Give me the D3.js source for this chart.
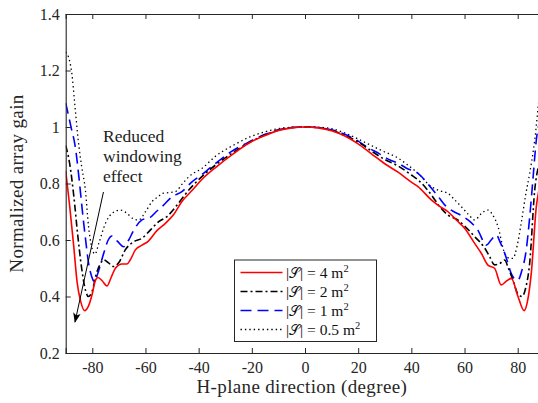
<!DOCTYPE html>
<html><head><meta charset="utf-8">
<script src="https://cdn.jsdelivr.net/npm/d3@7"></script>
<style>
body{margin:0;background:#fff;}
svg{display:block;}
</style></head>
<body>
<svg id="chart" width="538" height="403"></svg>
<script>
// ---------- data ----------
const xTicks = [-80,-60,-40,-20,0,20,40,60,80];
const yTicks = [0.2,0.4,0.6,0.8,1,1.2,1.4];
const yTickLabels = ["0.2","0.4","0.6","0.8","1","1.2","1.4"];
const seriesNames = ["4 m","2 m","1 m","0.5 m"];

const redX = [-90,-88.5,-87,-85.7,-84.3,-82.9,-81.5,-80,-78.9,-77.9,-76.2,-74.5,-72.8,-71.3,-68.8,-67,-65.7,-63.8,-61.3,-59,-55.7,-52.5,-49.4,-46.3,-42.5,-38.7,-33.2,-27,-20.7,-15,-10,-5,0,5,10,15,20,25,30,35,40,42.5,47.5,50.5,53.8,57,60.1,63.8,66.3,68.8,71.3,73.8,75.8,77.6,80.1,82.4,84,85.1,87,88.5,90];
const redY = [0.845,0.72,0.58,0.45,0.38,0.35,0.365,0.41,0.455,0.467,0.455,0.437,0.47,0.5,0.515,0.515,0.53,0.565,0.582,0.595,0.633,0.659,0.69,0.736,0.775,0.815,0.86,0.905,0.945,0.97,0.988,0.997,1.0,0.997,0.987,0.968,0.94,0.905,0.87,0.84,0.805,0.789,0.742,0.72,0.7,0.67,0.641,0.588,0.553,0.511,0.5,0.441,0.455,0.464,0.4,0.35,0.4,0.482,0.718,0.8,0.86];

const blackX = [-90,-88.5,-87,-85.5,-84,-82.5,-81.5,-80,-78.5,-77,-75.7,-74,-72,-70,-67.6,-64.4,-61.3,-58.2,-55,-51.9,-48.1,-43.7,-38.7,-33,-27,-20,-15,-10,-5,0,5,10,15,20,25,30,35,40,42.5,47.5,50.5,53.8,57.6,60.5,63.8,67.6,69.5,71.3,73,75.1,76.5,78.2,80,81.6,83,84.5,86.4,88,90];
const blackY = [0.935,0.87,0.76,0.62,0.5,0.42,0.4,0.42,0.48,0.515,0.53,0.52,0.506,0.52,0.565,0.594,0.606,0.635,0.665,0.683,0.724,0.777,0.825,0.87,0.91,0.95,0.972,0.989,0.998,1.0,0.998,0.988,0.97,0.947,0.915,0.885,0.862,0.83,0.813,0.76,0.72,0.688,0.67,0.645,0.612,0.571,0.54,0.512,0.515,0.529,0.5,0.458,0.41,0.4,0.43,0.518,0.777,0.87,0.935];

const blueX = [-90,-88,-86.4,-85,-83.9,-82.5,-81.4,-80.2,-79.2,-78,-75.7,-74,-72.6,-70.5,-68.2,-66.3,-64.4,-61.3,-58.2,-56,-53.8,-50,-46.3,-42.5,-38.7,-35.7,-28.2,-20,-15,-10,-5,0,5,10,15,20,23.2,28,32,35,38,42.5,47.5,50,53,56,58.5,61.3,65,68.2,70,71.9,73.5,75.1,78.2,80.1,81.5,83.2,84.5,85.7,87,88.5,90];
const blueY = [1.085,1.0,0.93,0.82,0.718,0.6,0.518,0.47,0.452,0.48,0.553,0.6,0.614,0.595,0.576,0.6,0.635,0.671,0.68,0.7,0.718,0.753,0.771,0.806,0.832,0.855,0.91,0.952,0.974,0.99,0.998,1.0,0.998,0.99,0.974,0.95,0.93,0.905,0.883,0.872,0.855,0.836,0.784,0.755,0.72,0.7,0.688,0.671,0.635,0.582,0.6,0.618,0.59,0.553,0.47,0.458,0.49,0.565,0.68,0.812,0.954,1.03,1.085];

const dotX = [-90,-89,-87.7,-86.5,-85.3,-84,-82.6,-81.4,-80.2,-79,-77.5,-75,-72.5,-69.5,-67,-64.5,-62.5,-60,-57.5,-55,-53.8,-51,-48.8,-46,-43.7,-38.7,-33.2,-27,-20.7,-15,-10,-5,0,5,10,16.7,22,29.2,35,38,42.5,47.5,50.5,53.8,56,58.8,61.5,63.8,66.5,68.8,70.5,72.6,75.1,77,78.2,79.8,81.3,83,84.5,86.4,88,90];
const dotY = [1.265,1.249,1.19,1.072,0.954,0.86,0.777,0.647,0.575,0.55,0.59,0.66,0.695,0.706,0.695,0.675,0.671,0.7,0.736,0.755,0.765,0.768,0.771,0.8,0.824,0.854,0.9,0.935,0.965,0.983,0.994,0.999,1.0,0.999,0.994,0.972,0.948,0.915,0.89,0.87,0.836,0.789,0.775,0.765,0.745,0.718,0.69,0.671,0.695,0.706,0.69,0.647,0.553,0.535,0.535,0.58,0.659,0.76,0.836,0.954,1.1,1.265];

// ---------- layout ----------
const FONT = "'Liberation Serif','DejaVu Serif',serif";
const svg = d3.select("#chart");
const xs = d3.scaleLinear().domain([-90,90]).range([65.7,544.3]);
const ys = d3.scaleLinear().domain([0.2,1.4]).range([353,14]);
const axisColor = "#262626";

const defs = svg.append("defs");
defs.append("clipPath").attr("id","plotclip")
  .append("rect").attr("x",xs(-90)).attr("y",ys(1.4)).attr("width",xs(90)-xs(-90)).attr("height",ys(0.2)-ys(1.4));

const series = [
  {name:seriesNames[0], xv:redX, yv:redY, color:"#ff0000", dash:null, w:1.6},
  {name:seriesNames[1], xv:blackX, yv:blackY, color:"#000000", dash:"7,3,2,3", w:1.6},
  {name:seriesNames[2], xv:blueX, yv:blueY, color:"#0000ff", dash:"11,6", w:1.6},
  {name:seriesNames[3], xv:dotX, yv:dotY, color:"#000000", dash:"1.4,3", w:1.3}
];

const lineGen = d3.line().x(d=>xs(d[0])).y(d=>ys(d[1])).curve(d3.curveMonotoneX);
const plotG = svg.append("g").attr("clip-path","url(#plotclip)");
series.slice().reverse().forEach(s=>{
  plotG.append("path").datum(s.xv.map((v,i)=>[v,s.yv[i]]))
    .attr("d",lineGen).attr("fill","none").attr("stroke",s.color)
    .attr("stroke-width",s.w).attr("stroke-dasharray",s.dash);
});

// ---------- axes ----------
const axB = svg.append("g").attr("transform",`translate(0,${ys(0.2)})`)
  .call(d3.axisBottom(xs).tickValues(xTicks).tickSize(-5).tickPadding(9).tickFormat(d=>String(d)));
const axT = svg.append("g").attr("transform",`translate(0,${ys(1.4)})`)
  .call(d3.axisTop(xs).tickValues(xTicks).tickSize(-5).tickFormat(""));
const axL = svg.append("g").attr("transform",`translate(${xs(-90)},0)`)
  .call(d3.axisLeft(ys).tickValues(yTicks).tickSize(-5).tickPadding(6).tickFormat((d,i)=>yTickLabels[i]));
[axB,axT,axL].forEach(a=>{
  a.attr("font-family",null).attr("font-size",null);
  a.select(".domain").attr("stroke",axisColor).attr("stroke-width",1.1);
  a.selectAll(".tick line").attr("stroke",axisColor).attr("stroke-width",1);
  a.selectAll("text").style("font-size","16px").style("fill",axisColor).style("font-family",FONT);
});

svg.append("text").attr("x",(xs(-90)+538)/2).attr("y",393)
  .attr("text-anchor","middle").style("font-family",FONT).style("font-size","19px")
  .style("letter-spacing","0.35px").style("fill",axisColor)
  .text("H-plane direction (degree)");
svg.append("text").attr("transform",`translate(23,${(ys(0.2)+ys(1.4))/2}) rotate(-90)`)
  .attr("text-anchor","middle").style("font-family",FONT).style("font-size","19px")
  .style("letter-spacing","0.35px").style("fill",axisColor)
  .text("Normalized array gain");

// ---------- annotation ----------
const ann = ["Reduced","windowing","effect"];
ann.forEach((t,i)=>{
  svg.append("text").attr("x",103).attr("y",142+i*20)
    .style("font-family",FONT).style("font-size","17.5px").style("fill","#222").text(t);
});
defs.append("marker").attr("id","arrow").attr("viewBox","0 0 10 10")
  .attr("refX",9).attr("refY",5).attr("markerWidth",10).attr("markerHeight",10)
  .attr("orient","auto").attr("markerUnits","userSpaceOnUse")
  .append("path").attr("d","M0,1.2 L10,5 L0,8.8 L2.5,5 Z").attr("fill","#000");
svg.append("line").attr("x1",xs(-75.8)).attr("y1",ys(0.77)).attr("x2",xs(-86.5)).attr("y2",ys(0.31))
  .attr("stroke","#000").attr("stroke-width",1).attr("marker-end","url(#arrow)");

// ---------- legend ----------
const lg = svg.append("g");
lg.append("rect").attr("x",234.5).attr("y",260).attr("width",142).attr("height",81.5)
  .attr("fill","#fff").attr("stroke",axisColor).attr("stroke-width",1);
series.forEach((s,i)=>{
  const yy = 272.5 + i*19;
  lg.append("line").attr("x1",240.5).attr("x2",282.5).attr("y1",yy).attr("y2",yy)
    .attr("stroke",s.color).attr("stroke-width",s.w).attr("stroke-dasharray",s.dash);
  const t = lg.append("text").attr("x",286).attr("y",yy+5)
    .style("font-family",FONT).style("font-size","15.5px").style("fill","#111");
  t.append("tspan").text("|");
  t.append("tspan").style("font-family","'DejaVu Serif',serif").style("font-size","14px").text("𝒮");
  t.append("tspan").text("| = " + s.name);
  t.append("tspan").style("font-size","10.5px").attr("dy",-6).text("2");
});
</script>
</body></html>
